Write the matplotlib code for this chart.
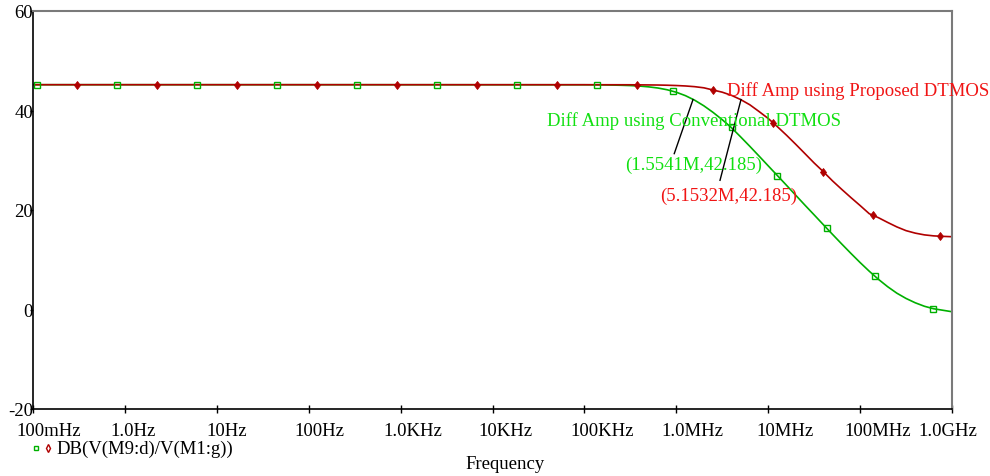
import matplotlib.pyplot as plt
import matplotlib.transforms as mtransforms
import numpy as np

plt.rcParams['font.family'] = ['Liberation Serif', 'DejaVu Serif']

# frequency response: log10(Hz) and dB
logf_conv = [-1.0, 2.0, 5.0, 5.1, 5.2, 5.3, 5.4, 5.5, 5.6, 5.7, 5.8, 5.9, 6.0, 6.1, 6.2,
             6.3, 6.4, 6.5, 6.6, 6.7, 6.8, 6.9, 7.0, 7.1, 7.2, 7.3, 7.4, 7.5, 7.6,
             7.7, 7.8, 7.9, 8.0, 8.1, 8.2, 8.3, 8.4, 8.5, 8.6, 8.7, 8.8, 8.9, 9.0]
db_conv = [45.185, 45.185, 45.17, 45.16, 45.14, 45.11, 45.07, 45.01, 44.91, 44.75, 44.52,
           44.17, 43.67, 42.98, 42.07, 40.94, 39.62, 38.15, 36.55, 34.7, 32.8, 30.85,
           28.88, 26.92, 24.95, 22.96, 20.97, 19.02, 17.05, 15.1, 13.17, 11.28, 9.44,
           7.69, 6.06, 4.58, 3.28, 2.22, 1.35, 0.65, 0.15, -0.15, -0.45]

logf_prop = [-1.0, 2.0, 5.0, 5.5, 5.8, 5.9, 6.0, 6.1, 6.2, 6.3, 6.4, 6.5, 6.6, 6.7, 6.8,
             6.9, 7.0, 7.1, 7.2, 7.3, 7.4, 7.5, 7.6, 7.7, 7.8, 7.9, 8.0, 8.1, 8.2, 8.3,
             8.4, 8.5, 8.6, 8.7, 8.8, 8.9, 9.0]
db_prop = [45.185, 45.185, 45.18, 45.17, 45.12, 45.08, 45.02, 44.93, 44.79, 44.56, 44.12,
           43.68, 43.05, 42.2, 41.15, 39.8, 38.4, 36.75, 35.02, 33.2, 31.33, 29.45,
           27.7, 25.85, 24.15, 22.5, 20.9, 19.25, 18.45, 17.5, 16.6, 15.85, 15.35,
           15.0, 14.8, 14.7, 14.63]

# marker points (log10 Hz, dB)
mk_conv_logf = [-0.956, -0.086, 0.785, 1.655, 2.526, 3.396, 4.267, 5.137, 5.967, 6.603,
                7.099, 7.637, 8.162, 8.797]
mk_conv_db = [45.185] * 8 + [43.82, 36.6, 26.8, 16.45, 6.8, 0.15]
mk_prop_logf = [-0.521, 0.350, 1.220, 2.091, 2.961, 3.832, 4.702, 5.573, 6.403, 7.055,
                7.599, 8.143, 8.869]
mk_prop_db = [45.185] * 8 + [44.1, 37.54, 27.7, 19.0, 14.75]

xticks = [1e-1, 1, 1e1, 1e2, 1e3, 1e4, 1e5, 1e6, 1e7, 1e8, 1e9]
xlabels = ['100mHz', '1.0Hz', '10Hz', '100Hz', '1.0KHz', '10KHz', '100KHz',
           '1.0MHz', '10MHz', '100MHz', '1.0GHz']
yticks = [-20, 0, 20, 40, 60]

green = '#00b000'
red = '#b00000'
green_txt = '#11e011'
red_txt = '#f01414'

fig = plt.figure(figsize=(9.9, 4.77), dpi=100)
ax = fig.add_axes([33 / 990, 1 - 410 / 477, 919 / 990, 398 / 477])

ax.semilogx(10 ** np.array(logf_conv), db_conv, color=green, lw=1.2)
ax.semilogx(10 ** np.array(logf_prop), db_prop, color=red, lw=1.2)
ax.plot(10 ** np.array(mk_conv_logf), mk_conv_db, ls='none', marker='s', ms=4,
        mfc='none', mec=green, mew=1.0)
ax.plot(10 ** np.array(mk_prop_logf), mk_prop_db, ls='none', marker='d', ms=4.5,
        mfc=red, mec=red, mew=0.6)

ax.set_xlim(1e-1, 1e9)
ax.set_ylim(-20, 60)
ax.set_xticks(xticks)
ax.set_xticklabels(xlabels)
ax.minorticks_off()
ax.set_yticks(yticks)
ax.set_yticklabels([str(v) for v in yticks])
ax.tick_params(axis='x', direction='inout', length=6, width=1, labelsize=13.5, pad=6.5)
ax.tick_params(axis='y', direction='out', length=2, width=1, labelsize=13.5, pad=-2)

# PSpice puts the x labels a little to the right of their ticks
shifts = [-17, -14, -10, -14, -17, -14, -14, -15, -12, -16, -34]
for lab, dx in zip(ax.get_xticklabels(), shifts):
    lab.set_ha('left')
    lab.set_transform(lab.get_transform() +
                      mtransforms.ScaledTranslation(dx / 100, 0, fig.dpi_scale_trans))

for side in ['left', 'bottom']:
    ax.spines[side].set_color('black')
    ax.spines[side].set_linewidth(1.2)
for side in ['top', 'right']:
    ax.spines[side].set_color('#7a7a7a')
    ax.spines[side].set_linewidth(1.5)

# annotations
ax.text(3.56e6, 43.16, 'Diff Amp using Proposed DTMOS', color=red_txt, fontsize=13.5,
        va='baseline', ha='left', clip_on=False)
ax.text(3.92e4, 37.14, 'Diff Amp using Conventional DTMOS', color=green_txt, fontsize=13.5,
        va='baseline', ha='left')
ax.text(2.77e5, 28.32, '(1.5541M,42.185)', color=green_txt, fontsize=13.5,
        va='baseline', ha='left')
ax.text(6.64e5, 21.97, '(5.1532M,42.185)', color=red_txt, fontsize=13.5,
        va='baseline', ha='left')
ax.plot([1.52e6, 9.5e5], [42.2, 31.33], color='black', lw=1)
ax.plot([5.06e6, 2.99e6], [42.2, 25.97], color='black', lw=1)

# legend
fig.lines.append(plt.Line2D([36 / 990], [1 - 449 / 477], transform=fig.transFigure,
                            ls='none', marker='s', ms=3.5, mfc='none', mec=green, mew=1))
fig.lines.append(plt.Line2D([48 / 990], [1 - 449 / 477], transform=fig.transFigure,
                            ls='none', marker='d', ms=4, mfc='none', mec=red, mew=1))
fig.text(56 / 990, 1 - 449 / 477, 'DB(V(M9:d)/V(M1:g))', fontsize=13.5, va='center', ha='left')
fig.text(505 / 990, 1 - 465 / 477, 'Frequency', fontsize=13.5, va='center', ha='center')

fig.savefig('out.png', dpi=100)
